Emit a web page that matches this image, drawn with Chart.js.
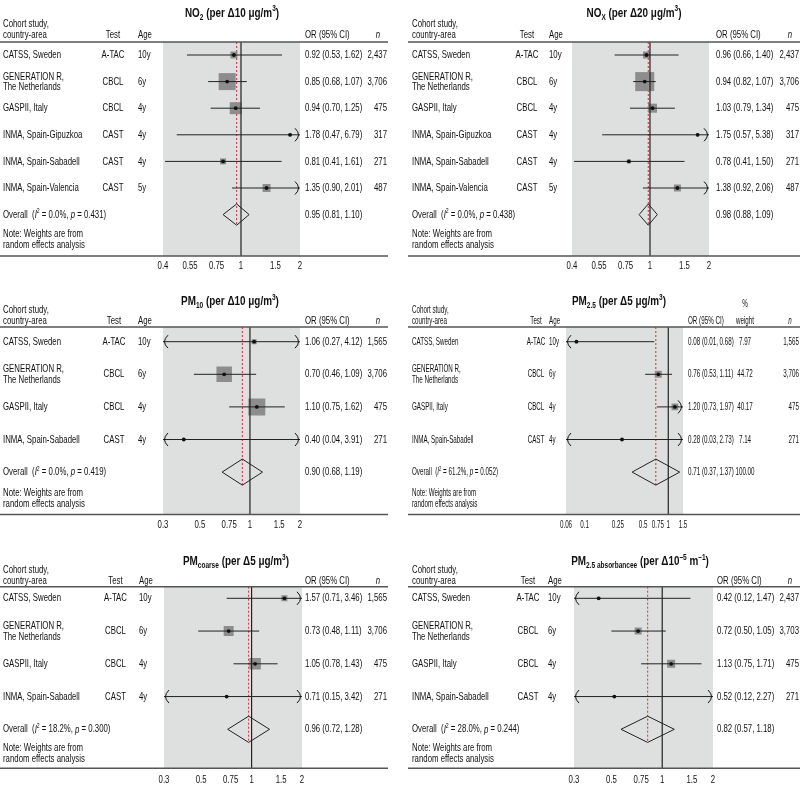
<!DOCTYPE html>
<html><head><meta charset="utf-8">
<script src="https://cdn.jsdelivr.net/npm/chart.js@4.4.1/dist/chart.umd.min.js"></script>
<style>
html,body{margin:0;padding:0;background:#fff;}
#wrap{position:relative;width:800px;height:786px;overflow:hidden;background:#fff;}
.panel{position:absolute;width:400px;}
</style></head><body><div id="wrap"></div>
<script>
// ---------------- DATA ----------------
const studies6 = ["CATSS, Sweden","GENERATION R,\nThe Netherlands","GASPII, Italy","INMA, Spain-Gipuzkoa","INMA, Spain-Sabadell","INMA, Spain-Valencia"];
const tests6 = ["A-TAC","CBCL","CBCL","CAST","CAST","CAST"];
const ages6 = ["10y","6y","4y","4y","4y","5y"];
const n6 = ["2,437","3,706","475","317","271","487"];

const studies4 = ["CATSS, Sweden","GENERATION R,\nThe Netherlands","GASPII, Italy","INMA, Spain-Sabadell"];
const tests4 = ["A-TAC","CBCL","CBCL","CAST"];
const ages4 = ["10y","6y","4y","4y"];
const nPM = ["1,565","3,706","475","271"];
const nAbs = ["2,437","3,703","475","271"];

// NO2 (per 10 ug/m3)
const no2OR = [0.92,0.85,0.94,1.78,0.81,1.35];
const no2Lo = [0.53,0.68,0.70,0.47,0.41,0.90];
const no2Hi = [1.62,1.07,1.25,6.79,1.61,2.01];
const no2Weight = [8.3,48.9,24.4,1.5,6.1,10.8];
const no2Overall = [0.95,0.81,1.10];
const no2Het = [0.0,0.431];

// NOx (per 20 ug/m3)
const noxOR = [0.96,0.94,1.03,1.75,0.78,1.38];
const noxLo = [0.66,0.82,0.79,0.57,0.41,0.92];
const noxHi = [1.40,1.07,1.34,5.38,1.50,2.06];
const noxWeight = [8.7,63.9,14.3,1.6,2.8,8.7];
const noxOverall = [0.98,0.88,1.09];
const noxHet = [0.0,0.438];

// PM10 (per 10 ug/m3)
const pm10OR = [1.06,0.70,1.10,0.40];
const pm10Lo = [0.27,0.46,0.75,0.04];
const pm10Hi = [4.12,1.09,1.62,3.91];
const pm10Weight = [4.4,42.7,51.3,1.6];
const pm10Overall = [0.90,0.68,1.19];
const pm10Het = [0.0,0.419];

// PM2.5 (per 5 ug/m3)
const pm25OR = [0.08,0.76,1.20,0.28];
const pm25Lo = [0.01,0.53,0.73,0.03];
const pm25Hi = [0.68,1.11,1.97,2.73];
const pm25Weight = [7.97,44.72,40.17,7.14];
const pm25Overall = [0.71,0.37,1.37];
const pm25Het = [61.2,0.052];

// PMcoarse (per 5 ug/m3)
const pmcOR = [1.57,0.73,1.05,0.71];
const pmcLo = [0.71,0.48,0.78,0.15];
const pmcHi = [3.46,1.11,1.43,3.42];
const pmcWeight = [13.0,36.1,47.7,3.2];
const pmcOverall = [0.96,0.72,1.28];
const pmcHet = [18.2,0.300];

// PM2.5 absorbance (per 10^-5 m^-1)
const absOR = [0.42,0.72,1.13,0.52];
const absLo = [0.12,0.50,0.75,0.12];
const absHi = [1.47,1.05,1.71,2.27];
const absWeight = [6.9,37.4,48.9,6.9];
const absOverall = [0.82,0.57,1.18];
const absHet = [28.0,0.244];

// tick labels
const ticksNO = [0.4,0.55,0.75,1,1.5,2];
const ticksPM = [0.3,0.5,0.75,1,1.5,2];
const ticksPM25 = [0.06,0.1,0.25,0.5,0.75,1,1.5];

// ---------------- STYLE ----------------
const BAND='#dedfdf', BOX='#8d8d8d', INK='#111', RED='#d2302c', RULE='#555';
const XH = 20, DH = 0.4, FS = 11.5;

function fontAvailable(name){
  const c=document.createElement('canvas').getContext('2d');
  const s='abcdefghijklmnopqrstuvwxyz0123456789ABCDEF';
  c.font='30px monospace'; const a=c.measureText(s).width;
  c.font='30px "'+name+'", monospace'; const b=c.measureText(s).width;
  c.font='30px serif'; const a2=c.measureText(s).width;
  c.font='30px "'+name+'", serif'; const b2=c.measureText(s).width;
  return a!==b || a2!==b2;
}
const FAMILY = fontAvailable('Liberation Sans Narrow') ? '"Liberation Sans Narrow", "Liberation Sans", sans-serif' : '"Liberation Sans", Arial, sans-serif';
const SX = (function(){ const c=document.createElement('canvas').getContext('2d'); c.font=FS+'px '+FAMILY; return 58/c.measureText('CATSS, Sweden').width; })();
Chart.defaults.font.family = FAMILY;

function fontStr(size,bold,italic){ return (italic?'italic ':'')+(bold?'bold ':'')+size+'px '+FAMILY; }
function drawRich(ctx, segs, x, y, align, size, bold, mul){
  const sx = SX*(mul||1);
  const parts = segs.map(s=>{
    const t = typeof s==='string'? s : s[0];
    const f = typeof s==='string'? '' : s[1];
    const small = f.indexOf('sub')>=0 || f.indexOf('sup')>=0;
    const sz = small? size*0.66 : size;
    const font = fontStr(sz,bold,f.indexOf('i')===0);
    ctx.font = font;
    return {t, font, w:ctx.measureText(t).width, dy: f.indexOf('sub')>=0? size*0.3 : (f.indexOf('sup')>=0? -size*0.32 : 0)};
  });
  const total = parts.reduce((a,p)=>a+p.w,0)*sx;
  let cx = align==='center'? x-total/2 : (align==='right'? x-total : x);
  ctx.save(); ctx.textBaseline='middle'; ctx.textAlign='left'; ctx.fillStyle=INK;
  for(const p of parts){ ctx.font=p.font; ctx.save(); ctx.translate(cx, y+p.dy); ctx.scale(sx,1); ctx.fillText(p.t,0,0); ctx.restore(); cx += p.w*sx; }
  ctx.restore();
}
function orText(e,l,h){ return e.toFixed(2)+' ('+l.toFixed(2)+', '+h.toFixed(2)+')'; }

function arrowHead(ctx,x,y,dir){
  ctx.beginPath(); ctx.moveTo(x-dir*4,y-6.5); ctx.quadraticCurveTo(x+dir*3,y,x-dir*4,y+6.5); ctx.stroke();
}

function makePlugin(p){
  return {
    id:'forest_'+p.id,
    beforeDatasetsDraw(chart){
      const {ctx, chartArea:a}=chart;
      ctx.save(); ctx.fillStyle=BAND; ctx.fillRect(a.left,a.top,a.right-a.left,a.bottom-a.top); ctx.restore();
    },
    afterDatasetsDraw(chart){
      const {ctx, chartArea:a}=chart; const xs=chart.scales.x, ys=chart.scales.y;
      ctx.save(); ctx.strokeStyle=INK; ctx.lineWidth=1;
      p.or.forEach((v,i)=>{
        const y=ys.getPixelForValue(i);
        if(p.lo[i]<xs.min) arrowHead(ctx,a.left+1,y,-1);
        if(p.hi[i]>xs.max) arrowHead(ctx,a.right-1,y,1);
      });
      ctx.restore();
    },
    afterDraw(chart){
      const {ctx, chartArea:a}=chart; const xs=chart.scales.x, ys=chart.scales.y;
      ctx.save(); ctx.strokeStyle=RULE; ctx.lineWidth=1.5;
      ctx.beginPath(); ctx.moveTo(p.line[0],a.top); ctx.lineTo(p.line[1],a.top); ctx.stroke();
      ctx.beginPath(); ctx.moveTo(p.line[0],a.bottom); ctx.lineTo(p.line[1],a.bottom); ctx.stroke();
      ctx.restore();
      // axis tick labels, placed by the x scale
      xs.ticks.forEach(t=>drawRich(ctx,[String(t.value)],xs.getPixelForValue(t.value),a.bottom+p.tickOff,'center',FS,false,p.mul));
      const c=p.cols, S=FS, m=p.mul;
      drawRich(ctx,p.title,p.titleX,p.titleY,'center',13.5,true,1.08);
      drawRich(ctx,['Cohort study,'],c.name,p.hdr[0],'left',S,false,m);
      drawRich(ctx,['country-area'],c.name,p.hdr[1],'left',S,false,m);
      drawRich(ctx,['Test'],c.test,p.hdr[1],'center',S,false,m);
      drawRich(ctx,['Age'],c.age,p.hdr[1],'left',S,false,m);
      drawRich(ctx,['OR (95% CI)'],c.or,p.hdr[1],'left',S,false,m);
      drawRich(ctx,[['n','i']],c.n-9,p.hdr[1],'center',S,false,m);
      if(p.showW){
        drawRich(ctx,['%'],c.w,p.pctY,'center',S,false,m);
        drawRich(ctx,['weight'],c.w,p.hdr[1],'center',S,false,m);
      }
      p.or.forEach((v,i)=>{
        const y=ys.getPixelForValue(i);
        const nm=p.studies[i].split('\n');
        if(nm.length===1) drawRich(ctx,[nm[0]],c.name,y,'left',S,false,m);
        else { drawRich(ctx,[nm[0]],c.name,y-5,'left',S,false,m); drawRich(ctx,[nm[1]],c.name,y+5.5,'left',S,false,m); }
        drawRich(ctx,[p.tests[i]],c.test,y,'center',S,false,m);
        drawRich(ctx,[p.ages[i]],c.age,y,'left',S,false,m);
        drawRich(ctx,[orText(v,p.lo[i],p.hi[i])],c.or,y,'left',S,false,m);
        if(p.showW) drawRich(ctx,[p.w[i].toFixed(2)],c.w,y,'center',S,false,m);
        drawRich(ctx,[p.n[i]],c.n,y,'right',S,false,m);
      });
      const k=p.or.length, yo=ys.getPixelForValue(k);
      drawRich(ctx,['Overall  (',['I','i'],['2','sup'],' = '+p.het[0].toFixed(1)+'%, ',['p','i'],' = '+p.het[1].toFixed(3)+')'],c.name,yo,'left',S,false,m);
      drawRich(ctx,[orText(p.overall[0],p.overall[1],p.overall[2])],c.or,yo,'left',S,false,m);
      if(p.showW) drawRich(ctx,[p.w.reduce((s,v)=>s+v,0).toFixed(2)],c.w,yo,'center',S,false,m);
      drawRich(ctx,['Note: Weights are from'],c.name,p.notes[0],'left',S,false,m);
      drawRich(ctx,['random effects analysis'],c.name,p.notes[1],'left',S,false,m);
    }
  };
}

function makeChart(p){
  const div=document.createElement('div'); div.className='panel';
  div.style.left=p.left+'px'; div.style.top=p.top+'px'; div.style.height=p.h+'px';
  const cv=document.createElement('canvas'); div.appendChild(cv); document.getElementById('wrap').appendChild(div);
  const k=p.or.length;
  const ymin=-(p.row0-p.area[0])/p.step;
  const ymax=ymin+(p.area[1]-p.area[0])/p.step;
  const [oe,ol,oh]=p.overall;
  const ds=[];
  ds.push({label:'estimate',data:p.or.map((v,i)=>({x:v,y:i})),pointStyle:'circle',pointRadius:1.9,pointBackgroundColor:INK,pointBorderWidth:0,order:0});
  p.or.forEach((v,i)=>ds.push({label:'ci'+i,data:[{x:p.lo[i],y:i},{x:p.hi[i],y:i}],showLine:true,borderColor:'#222',borderWidth:1,pointRadius:0,order:1}));
  ds.push({label:'overall',data:[{x:ol,y:k},{x:oe,y:k-DH},{x:oh,y:k},{x:oe,y:k+DH},{x:ol,y:k}],showLine:true,borderColor:'#222',borderWidth:1,pointRadius:0,order:1});
  ds.push({label:'null',data:[{x:1,y:ymin},{x:1,y:ymax}],showLine:true,borderColor:'#222',borderWidth:1.2,pointRadius:0,order:2});
  ds.push({label:'weights',data:p.or.map((v,i)=>({x:v,y:i})),pointStyle:'rect',pointRadius:p.w.map(w=>Math.sqrt(w/100)*p.box/Math.SQRT2),pointBackgroundColor:BOX,pointBorderWidth:0,order:3});
  ds.push({label:'pooled',data:[{x:oe,y:ymin},{x:oe,y:k+DH}],showLine:true,borderColor:RED,borderWidth:1,borderDash:[2,2],pointRadius:0,order:4});
  new Chart(cv,{
    type:'scatter',
    data:{datasets:ds},
    options:{
      responsive:true, maintainAspectRatio:false, animation:false, events:[],
      layout:{padding:{left:p.band[0],right:400-p.band[1],top:p.area[0],bottom:p.h-p.area[1]-XH}},
      plugins:{legend:{display:false},tooltip:{enabled:false}},
      scales:{
        x:{type:'logarithmic',min:p.ticks[0],max:p.ticks[p.ticks.length-1],bounds:'data',
           afterBuildTicks:s=>{s.ticks=p.ticks.map(v=>({value:v}));},
           afterFit:s=>{s.height=XH;},
           grid:{display:false,drawTicks:false},border:{display:false},
           ticks:{display:false,autoSkip:false,maxRotation:0,minRotation:0}},
        y:{type:'linear',reverse:true,min:ymin,max:ymax,display:false}
      }
    },
    plugins:[makePlugin(p)]
  });
}

const panels=[
 {id:'no2',left:0,top:0,h:285,band:[163,300],area:[42,256],row0:55,step:26.6,tickOff:10,ticks:ticksNO,
  title:['NO',['2','sub'],' (per \u039410 \u03bcg/m',['3','sup'],')'],titleX:232,titleY:13,hdr:[24,34.5],notes:[234,245],
  cols:{name:3,test:113,age:138,or:305,n:387},line:[0,388],
  studies:studies6,tests:tests6,ages:ages6,n:n6,or:no2OR,lo:no2Lo,hi:no2Hi,w:no2Weight,overall:no2Overall,het:no2Het,box:24.3},
 {id:'nox',left:400,top:0,h:285,band:[172,309],area:[42,256],row0:55,step:26.6,tickOff:10,ticks:ticksNO,
  title:['NO',['X','sub'],' (per \u039420 \u03bcg/m',['3','sup'],')'],titleX:234,titleY:13,hdr:[24,34.5],notes:[234,245],
  cols:{name:12,test:127,age:149,or:316,n:399},line:[8,400],
  studies:studies6,tests:tests6,ages:ages6,n:n6,or:noxOR,lo:noxLo,hi:noxHi,w:noxWeight,overall:noxOverall,het:noxHet,box:23.8},
 {id:'pm10',left:0,top:285,h:256,band:[163,300],area:[42,229.5],row0:56.7,step:32.6,tickOff:10.5,ticks:ticksPM,
  title:['PM',['10','sub'],' (per \u039410 \u03bcg/m',['3','sup'],')'],titleX:230,titleY:16.5,hdr:[25,35.5],notes:[208,218.5],
  cols:{name:3,test:114,age:138,or:305,n:387},line:[0,388],
  studies:studies4,tests:tests4,ages:ages4,n:nPM,or:pm10OR,lo:pm10Lo,hi:pm10Hi,w:pm10Weight,overall:pm10Overall,het:pm10Het,box:23.7},
 {id:'pm25',left:400,top:285,h:256,band:[166,283],area:[42,229.5],row0:56.7,step:32.6,tickOff:10.5,ticks:ticksPM25,mul:0.8,
  title:['PM',['2.5','sub'],' (per \u03945 \u03bcg/m',['3','sup'],')'],titleX:219,titleY:16.5,hdr:[25,35.5],notes:[208,218.5],pctY:19,showW:true,
  cols:{name:12,test:136,age:149,or:288,w:345,n:399},line:[8,400],
  studies:studies4,tests:tests4,ages:ages4,n:nPM,or:pm25OR,lo:pm25Lo,hi:pm25Hi,w:pm25Weight,overall:pm25Overall,het:pm25Het,box:10.5},
 {id:'pmc',left:0,top:545,h:241,band:[164,302],area:[41.7,223.3],row0:53.3,step:32.75,tickOff:11.5,ticks:ticksPM,
  title:['PM',['coarse','sub'],' (per \u03945 \u03bcg/m',['3','sup'],')'],titleX:236,titleY:16.5,hdr:[25,36],notes:[203.3,214],
  cols:{name:3,test:115.5,age:139,or:305,n:387},line:[0,388],
  studies:studies4,tests:tests4,ages:ages4,n:nPM,or:pmcOR,lo:pmcLo,hi:pmcHi,w:pmcWeight,overall:pmcOverall,het:pmcHet,box:16.6},
 {id:'abs',left:400,top:545,h:241,band:[174,313],area:[41.7,223.3],row0:53.3,step:32.75,tickOff:11.5,ticks:ticksPM,
  title:['PM',['2.5 absorbancee','sub'],' (per \u039410',['\u20135','sup'],' m',['\u20131','sup'],')'],titleX:240,titleY:16.5,hdr:[25,36],notes:[203.3,214],
  cols:{name:12,test:128,age:148,or:317,n:399},line:[8,400],
  studies:studies4,tests:tests4,ages:ages4,n:nAbs,or:absOR,lo:absLo,hi:absHi,w:absWeight,overall:absOverall,het:absHet,box:11.4}
];
panels.forEach(makeChart);
</script></body></html>
